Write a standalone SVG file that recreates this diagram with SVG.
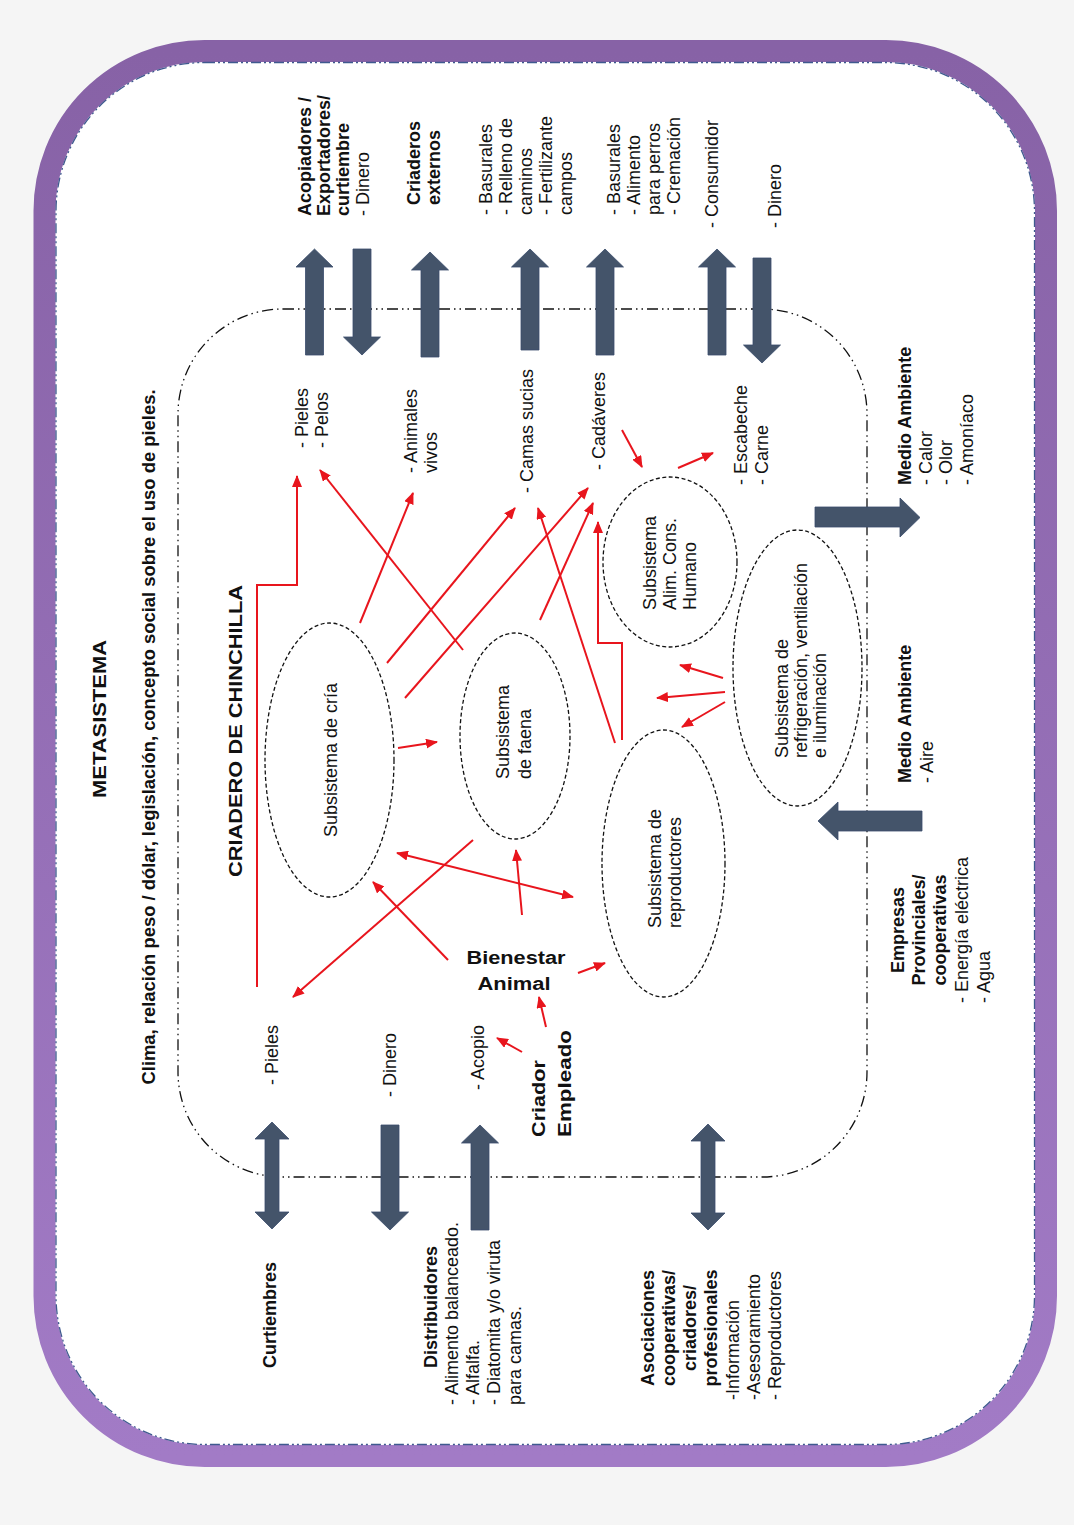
<svg xmlns="http://www.w3.org/2000/svg" width="1074" height="1525" viewBox="0 0 1074 1525">
<defs>
<linearGradient id="pg" x1="0" y1="0" x2="0" y2="1">
<stop offset="0" stop-color="#8762a6"/>
<stop offset="1" stop-color="#a27bc6"/>
</linearGradient>
<marker id="ah" viewBox="0 0 12 10" refX="11" refY="5" markerWidth="12" markerHeight="10" markerUnits="userSpaceOnUse" orient="auto-start-reverse">
<path d="M0,0 L12,5 L0,10 z" fill="#e8151d"/>
</marker>
<style>
.t{font-family:"Liberation Sans",Arial,sans-serif;font-size:18px;fill:#111}
.b{font-weight:bold}
.e{fill:none;stroke:#111;stroke-width:1.3;stroke-dasharray:4 2.5}
.r{fill:none;stroke:#e8151d;stroke-width:2;marker-end:url(#ah)}
.ba{fill:#44546a;stroke:#3a4d6c;stroke-width:0.8}
.dd{fill:none;stroke:#111;stroke-width:1.3;stroke-dasharray:11 4 1.5 4 1.5 4}
</style>
</defs>
<rect x="0" y="0" width="1074" height="1525" fill="#f5f5f5"/>
<g id="metasistema">
<rect x="44.5" y="51" width="1001.5" height="1405" rx="160" fill="#ffffff" stroke="url(#pg)" stroke-width="22"/>
<rect x="56" y="62.5" width="978.5" height="1382" rx="149" fill="none" stroke="#3f5a8f" stroke-width="1.3" stroke-dasharray="10 3 2 3 2 3"/>
<text class="t b" font-size="23" transform="translate(106,719) rotate(-90)" text-anchor="middle" textLength="158" lengthAdjust="spacingAndGlyphs">METASISTEMA</text>
<text class="t b" transform="translate(155,737) rotate(-90)" text-anchor="middle" textLength="695" lengthAdjust="spacingAndGlyphs">Clima, relación peso / dólar, legislación, concepto social sobre el uso de pieles.</text>
</g>
<g id="criadero">
<rect class="dd" x="178" y="309" width="689" height="868" rx="105"/>
<text class="t b" font-size="23" transform="translate(242,731) rotate(-90)" text-anchor="middle" textLength="292" lengthAdjust="spacingAndGlyphs">CRIADERO DE CHINCHILLA</text>
</g>
<g id="sub-cria">
<ellipse class="e" cx="329.5" cy="760" rx="64.5" ry="137"/>
<text class="t" transform="translate(337,837) rotate(-90)">Subsistema de cría</text>
</g>
<g id="sub-faena">
<ellipse class="e" cx="515" cy="736" rx="55" ry="103"/>
<text class="t" transform="translate(509,779) rotate(-90)"><tspan x="0" y="0">Subsistema</tspan><tspan x="0" y="22">de faena</tspan></text>
</g>
<g id="sub-alim">
<ellipse class="e" cx="670" cy="562" rx="67" ry="85"/>
<text class="t" transform="translate(656,610) rotate(-90)"><tspan x="0" y="0">Subsistema</tspan><tspan x="0" y="20">Alim. Cons.</tspan><tspan x="0" y="40">Humano</tspan></text>
</g>
<g id="sub-reproductores">
<ellipse class="e" cx="663.5" cy="863.5" rx="61.5" ry="133.5"/>
<text class="t" transform="translate(661,928) rotate(-90)"><tspan x="0" y="0">Subsistema de</tspan><tspan x="0" y="20">reproductores</tspan></text>
</g>
<g id="sub-refrigeracion">
<ellipse class="e" cx="797.5" cy="668" rx="64.5" ry="138"/>
<text class="t" font-size="16" transform="translate(788,758) rotate(-90)"><tspan x="0" y="0">Subsistema de</tspan><tspan x="0" y="19">refrigeración, ventilación</tspan><tspan x="0" y="38">e iluminación</tspan></text>
</g>
<g id="bienestar">
<text class="t b" font-size="21" text-anchor="middle" x="516" y="964" textLength="99" lengthAdjust="spacingAndGlyphs">Bienestar</text>
<text class="t b" font-size="21" text-anchor="middle" x="514" y="990" textLength="73" lengthAdjust="spacingAndGlyphs">Animal</text>
</g>
<g id="criador">
<text class="t b" font-size="21" transform="translate(545,1137) rotate(-90)" textLength="77" lengthAdjust="spacingAndGlyphs">Criador</text>
<text class="t b" font-size="21" transform="translate(571,1137) rotate(-90)" textLength="107" lengthAdjust="spacingAndGlyphs">Empleado</text>
</g>
<g id="out-pieles-pelos">
<text class="t" transform="translate(308,448) rotate(-90)"><tspan x="0" y="0">- Pieles</tspan><tspan x="0" y="20">- Pelos</tspan></text>
</g>
<g id="out-animales">
<text class="t" transform="translate(417,473) rotate(-90)"><tspan x="0" y="0">- Animales</tspan><tspan x="0" y="20">vivos</tspan></text>
</g>
<g id="out-camas">
<text class="t" transform="translate(533,493) rotate(-90)">- Camas sucias</text>
</g>
<g id="out-cadaveres">
<text class="t" transform="translate(605,470) rotate(-90)">- Cadáveres</text>
</g>
<g id="out-escabeche">
<text class="t" transform="translate(747,485) rotate(-90)"><tspan x="0" y="0">- Escabeche</tspan><tspan x="0" y="21">- Carne</tspan></text>
</g>
<g id="in-pieles">
<text class="t" transform="translate(278,1085) rotate(-90)">- Pieles</text>
</g>
<g id="in-dinero">
<text class="t" transform="translate(396,1097) rotate(-90)">- Dinero</text>
</g>
<g id="in-acopio">
<text class="t" transform="translate(484,1090) rotate(-90)">- Acopio</text>
</g>
<g id="acopiadores">
<text class="t" transform="translate(311,216) rotate(-90)"><tspan class="b" x="0" y="0">Acopiadores /</tspan><tspan class="b" x="0" y="19">Exportadores/</tspan><tspan class="b" x="0" y="38">curtiembre</tspan><tspan x="0" y="58">- Dinero</tspan></text>
</g>
<g id="criaderos-externos">
<text class="t b" transform="translate(420,205) rotate(-90)"><tspan x="0" y="0">Criaderos</tspan><tspan x="0" y="20">externos</tspan></text>
</g>
<g id="destino-camas">
<text class="t" transform="translate(492,215) rotate(-90)"><tspan x="0" y="0">- Basurales</tspan><tspan x="0" y="20">- Relleno de</tspan><tspan x="0" y="40">caminos</tspan><tspan x="0" y="60">- Fertilizante</tspan><tspan x="0" y="80">campos</tspan></text>
</g>
<g id="destino-cadaveres">
<text class="t" transform="translate(620,215) rotate(-90)"><tspan x="0" y="0">- Basurales</tspan><tspan x="0" y="20">- Alimento</tspan><tspan x="0" y="40">para perros</tspan><tspan x="0" y="60">- Cremación</tspan></text>
</g>
<g id="consumidor">
<text class="t" transform="translate(718,228) rotate(-90)">- Consumidor</text>
</g>
<g id="dinero-consumidor">
<text class="t" transform="translate(781,228) rotate(-90)">- Dinero</text>
</g>
<g id="medio-ambiente-salida">
<text class="t" transform="translate(911,485) rotate(-90)"><tspan class="b" x="0" y="0">Medio Ambiente</tspan><tspan x="0" y="21">- Calor</tspan><tspan x="0" y="41">- Olor</tspan><tspan x="0" y="62">- Amoníaco</tspan></text>
</g>
<g id="medio-ambiente-entrada">
<text class="t" transform="translate(911,783) rotate(-90)"><tspan class="b" x="0" y="0">Medio Ambiente</tspan><tspan x="0" y="22">- Aire</tspan></text>
</g>
<g id="empresas">
<text class="t b" transform="translate(904,930) rotate(-90)" text-anchor="middle"><tspan x="0" y="0">Empresas</tspan><tspan x="0" y="21">Provinciales/</tspan><tspan x="0" y="42">cooperativas</tspan></text>
<text class="t" transform="translate(968,1003) rotate(-90)"><tspan x="0" y="0">- Energía eléctrica</tspan><tspan x="0" y="22">- Agua</tspan></text>
</g>
<g id="curtiembres">
<text class="t b" transform="translate(276,1368) rotate(-90)">Curtiembres</text>
</g>
<g id="distribuidores">
<text class="t b" transform="translate(437,1368) rotate(-90)">Distribuidores</text>
<text class="t" transform="translate(458,1405) rotate(-90)"><tspan x="0" y="0">- Alimento balanceado.</tspan><tspan x="0" y="21">- Alfalfa.</tspan><tspan x="0" y="42">- Diatomita y/o viruta</tspan><tspan x="0" y="63">para camas.</tspan></text>
</g>
<g id="asociaciones">
<text class="t b" transform="translate(654,1328) rotate(-90)" text-anchor="middle"><tspan x="0" y="0">Asociaciones</tspan><tspan x="0" y="21">cooperativas/</tspan><tspan x="0" y="42">criadores/</tspan><tspan x="0" y="63">profesionales</tspan></text>
<text class="t" transform="translate(739,1400) rotate(-90)"><tspan x="0" y="0">-Información</tspan><tspan x="0" y="21">-Asesoramiento</tspan><tspan x="0" y="42">- Reproductores</tspan></text>
</g>
<g id="connectors">
<polygon class="ba" points="314.5,249 333,267 323.5,267 323.5,355 305.5,355 305.5,267 296,267"/>
<polygon class="ba" points="353,249 371,249 371,337 380.5,337 362,355 343.5,337 353,337"/>
<polygon class="ba" points="430,252 448.5,270 439,270 439,357 421,357 421,270 411.5,270"/>
<polygon class="ba" points="530,249 548.5,267 539,267 539,350 521,350 521,267 511.5,267"/>
<polygon class="ba" points="605,249 623.5,267 614,267 614,355 596,355 596,267 586.5,267"/>
<polygon class="ba" points="717,249 735.5,267 726,267 726,355 708,355 708,267 698.5,267"/>
<polygon class="ba" points="753,258 771,258 771,345 780.5,345 762,363 743.5,345 753,345"/>
<polygon class="ba" points="272,1122 289,1139 279,1139 279,1212 289,1212 272,1229 255,1212 265,1212 265,1139 255,1139"/>
<polygon class="ba" points="381,1125 399,1125 399,1212 408.5,1212 390,1230 371.5,1212 381,1212"/>
<polygon class="ba" points="480,1125 498.5,1143 489,1143 489,1230 471,1230 471,1143 461.5,1143"/>
<polygon class="ba" points="708,1124 725,1141 715,1141 715,1213 725,1213 708,1230 691,1213 701,1213 701,1141 691,1141"/>
<polygon class="ba" points="815,507 900,507 900,498 920,517.5 900,537 900,527 815,527"/>
<polygon class="ba" points="818,821 838,802 838,811 922,811 922,831 838,831 838,840"/>
<polyline class="r" points="257,987 257,585 297,585 297,476"/>
<line class="r" x1="463" y1="650" x2="320" y2="470"/>
<line class="r" x1="360" y1="623" x2="413" y2="493"/>
<line class="r" x1="387" y1="663" x2="515" y2="508"/>
<line class="r" x1="405" y1="698" x2="588" y2="488"/>
<line class="r" x1="540" y1="620" x2="593" y2="503"/>
<line class="r" x1="615" y1="743" x2="538" y2="508"/>
<polyline class="r" points="622,740 622,643 598,643 598,522"/>
<line class="r" x1="622" y1="430" x2="642" y2="467"/>
<line class="r" x1="678" y1="468" x2="713" y2="453"/>
<line class="r" x1="723" y1="678" x2="680" y2="665"/>
<line class="r" x1="725" y1="692" x2="657" y2="698"/>
<line class="r" x1="725" y1="702" x2="682" y2="727"/>
<line class="r" x1="398" y1="748" x2="437" y2="742"/>
<line class="r" x1="397" y1="853" x2="573" y2="897" marker-start="url(#ah)"/>
<line class="r" x1="473" y1="840" x2="293" y2="997"/>
<line class="r" x1="448" y1="960" x2="373" y2="882"/>
<line class="r" x1="522" y1="915" x2="516" y2="850"/>
<line class="r" x1="578" y1="973" x2="605" y2="963"/>
<line class="r" x1="546" y1="1027" x2="539" y2="997"/>
<line class="r" x1="522" y1="1052" x2="497" y2="1038"/>
</g>
</svg>
